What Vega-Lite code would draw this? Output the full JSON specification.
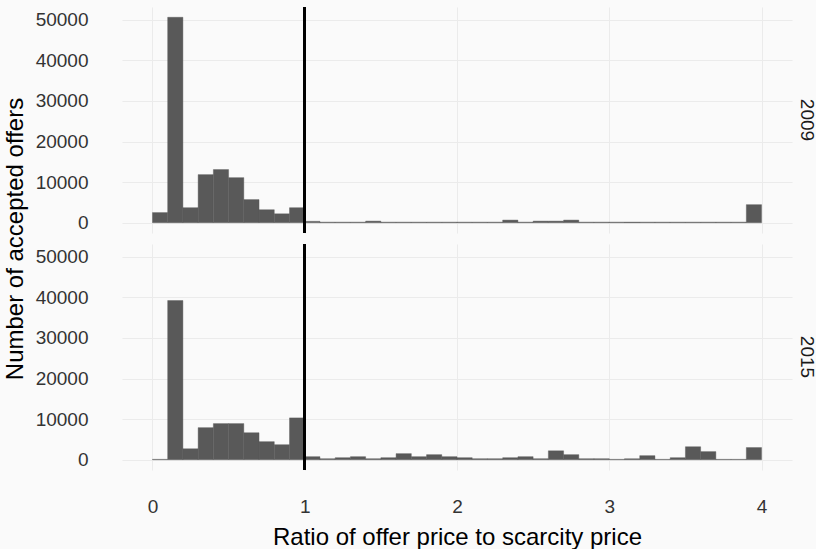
{
  "$schema": "https://vega.github.io/schema/vega-lite/v6.json",
  "background": "#fafafa",
  "padding": {"left": 3, "top": 6, "right": 0, "bottom": 0},
  "datasets": {
    "hist": [
      {"year": "2009", "bin_start": 0.0, "bin_end": 0.1, "count": 2500},
      {"year": "2009", "bin_start": 0.1, "bin_end": 0.2, "count": 50600},
      {"year": "2009", "bin_start": 0.2, "bin_end": 0.3, "count": 3700},
      {"year": "2009", "bin_start": 0.3, "bin_end": 0.4, "count": 11850},
      {"year": "2009", "bin_start": 0.4, "bin_end": 0.5, "count": 13100},
      {"year": "2009", "bin_start": 0.5, "bin_end": 0.6, "count": 11100},
      {"year": "2009", "bin_start": 0.6, "bin_end": 0.7, "count": 5700},
      {"year": "2009", "bin_start": 0.7, "bin_end": 0.8, "count": 3200},
      {"year": "2009", "bin_start": 0.8, "bin_end": 0.9, "count": 2200},
      {"year": "2009", "bin_start": 0.9, "bin_end": 1.0, "count": 3700},
      {"year": "2009", "bin_start": 1.0, "bin_end": 1.1, "count": 350},
      {"year": "2009", "bin_start": 1.1, "bin_end": 1.2, "count": 150},
      {"year": "2009", "bin_start": 1.2, "bin_end": 1.3, "count": 150},
      {"year": "2009", "bin_start": 1.3, "bin_end": 1.4, "count": 150},
      {"year": "2009", "bin_start": 1.4, "bin_end": 1.5, "count": 400},
      {"year": "2009", "bin_start": 1.5, "bin_end": 1.6, "count": 150},
      {"year": "2009", "bin_start": 1.6, "bin_end": 1.7, "count": 150},
      {"year": "2009", "bin_start": 1.7, "bin_end": 1.8, "count": 150},
      {"year": "2009", "bin_start": 1.8, "bin_end": 1.9, "count": 150},
      {"year": "2009", "bin_start": 1.9, "bin_end": 2.0, "count": 150},
      {"year": "2009", "bin_start": 2.0, "bin_end": 2.1, "count": 150},
      {"year": "2009", "bin_start": 2.1, "bin_end": 2.2, "count": 150},
      {"year": "2009", "bin_start": 2.2, "bin_end": 2.3, "count": 150},
      {"year": "2009", "bin_start": 2.3, "bin_end": 2.4, "count": 650},
      {"year": "2009", "bin_start": 2.4, "bin_end": 2.5, "count": 150},
      {"year": "2009", "bin_start": 2.5, "bin_end": 2.6, "count": 400},
      {"year": "2009", "bin_start": 2.6, "bin_end": 2.7, "count": 400},
      {"year": "2009", "bin_start": 2.7, "bin_end": 2.8, "count": 650},
      {"year": "2009", "bin_start": 2.8, "bin_end": 2.9, "count": 150},
      {"year": "2009", "bin_start": 2.9, "bin_end": 3.0, "count": 150},
      {"year": "2009", "bin_start": 3.0, "bin_end": 3.1, "count": 150},
      {"year": "2009", "bin_start": 3.1, "bin_end": 3.2, "count": 150},
      {"year": "2009", "bin_start": 3.2, "bin_end": 3.3, "count": 150},
      {"year": "2009", "bin_start": 3.3, "bin_end": 3.4, "count": 150},
      {"year": "2009", "bin_start": 3.4, "bin_end": 3.5, "count": 150},
      {"year": "2009", "bin_start": 3.5, "bin_end": 3.6, "count": 150},
      {"year": "2009", "bin_start": 3.6, "bin_end": 3.7, "count": 150},
      {"year": "2009", "bin_start": 3.7, "bin_end": 3.8, "count": 150},
      {"year": "2009", "bin_start": 3.8, "bin_end": 3.9, "count": 150},
      {"year": "2009", "bin_start": 3.9, "bin_end": 4.0, "count": 4450},
      {"year": "2015", "bin_start": 0.0, "bin_end": 0.1, "count": 100},
      {"year": "2015", "bin_start": 0.1, "bin_end": 0.2, "count": 39200},
      {"year": "2015", "bin_start": 0.2, "bin_end": 0.3, "count": 2700},
      {"year": "2015", "bin_start": 0.3, "bin_end": 0.4, "count": 7900},
      {"year": "2015", "bin_start": 0.4, "bin_end": 0.5, "count": 8900},
      {"year": "2015", "bin_start": 0.5, "bin_end": 0.6, "count": 8900},
      {"year": "2015", "bin_start": 0.6, "bin_end": 0.7, "count": 6650},
      {"year": "2015", "bin_start": 0.7, "bin_end": 0.8, "count": 4450},
      {"year": "2015", "bin_start": 0.8, "bin_end": 0.9, "count": 3700},
      {"year": "2015", "bin_start": 0.9, "bin_end": 1.0, "count": 10300},
      {"year": "2015", "bin_start": 1.0, "bin_end": 1.1, "count": 750},
      {"year": "2015", "bin_start": 1.1, "bin_end": 1.2, "count": 250},
      {"year": "2015", "bin_start": 1.2, "bin_end": 1.3, "count": 500},
      {"year": "2015", "bin_start": 1.3, "bin_end": 1.4, "count": 750},
      {"year": "2015", "bin_start": 1.4, "bin_end": 1.5, "count": 250},
      {"year": "2015", "bin_start": 1.5, "bin_end": 1.6, "count": 500},
      {"year": "2015", "bin_start": 1.6, "bin_end": 1.7, "count": 1500},
      {"year": "2015", "bin_start": 1.7, "bin_end": 1.8, "count": 750},
      {"year": "2015", "bin_start": 1.8, "bin_end": 1.9, "count": 1250},
      {"year": "2015", "bin_start": 1.9, "bin_end": 2.0, "count": 750},
      {"year": "2015", "bin_start": 2.0, "bin_end": 2.1, "count": 500},
      {"year": "2015", "bin_start": 2.1, "bin_end": 2.2, "count": 250},
      {"year": "2015", "bin_start": 2.2, "bin_end": 2.3, "count": 250},
      {"year": "2015", "bin_start": 2.3, "bin_end": 2.4, "count": 500},
      {"year": "2015", "bin_start": 2.4, "bin_end": 2.5, "count": 750},
      {"year": "2015", "bin_start": 2.5, "bin_end": 2.6, "count": 250},
      {"year": "2015", "bin_start": 2.6, "bin_end": 2.7, "count": 2200},
      {"year": "2015", "bin_start": 2.7, "bin_end": 2.8, "count": 1250},
      {"year": "2015", "bin_start": 2.8, "bin_end": 2.9, "count": 250},
      {"year": "2015", "bin_start": 2.9, "bin_end": 3.0, "count": 250},
      {"year": "2015", "bin_start": 3.0, "bin_end": 3.1, "count": 100},
      {"year": "2015", "bin_start": 3.1, "bin_end": 3.2, "count": 250},
      {"year": "2015", "bin_start": 3.2, "bin_end": 3.3, "count": 1000},
      {"year": "2015", "bin_start": 3.3, "bin_end": 3.4, "count": 100},
      {"year": "2015", "bin_start": 3.4, "bin_end": 3.5, "count": 500},
      {"year": "2015", "bin_start": 3.5, "bin_end": 3.6, "count": 3200},
      {"year": "2015", "bin_start": 3.6, "bin_end": 3.7, "count": 2000},
      {"year": "2015", "bin_start": 3.7, "bin_end": 3.8, "count": 100},
      {"year": "2015", "bin_start": 3.8, "bin_end": 3.9, "count": 100},
      {"year": "2015", "bin_start": 3.9, "bin_end": 4.0, "count": 3000}
    ]
  },
  "data": {"name": "hist"},
  "facet": {
    "row": {
      "field": "year",
      "type": "nominal",
      "header": {
        "title": "Number of accepted offers",
        "titleOrient": "left",
        "titleFont": "Liberation Sans",
        "titleFontSize": 24,
        "titleFontWeight": "normal",
        "titleColor": "#000000",
        "titlePadding": -3,
        "labelOrient": "right",
        "labelAngle": 90,
        "labelFont": "Liberation Sans",
        "labelFontSize": 19,
        "labelColor": "#1a1a1a",
        "labelPadding": 5
      }
    }
  },
  "spacing": 9,
  "spec": {
    "width": 670,
    "height": 226,
    "layer": [
      {
        "mark": {"type": "bar", "color": "#595959", "stroke": "#595959", "strokeWidth": 0.4, "orient": "vertical"},
        "encoding": {
          "x": {
            "field": "bin_start",
            "type": "quantitative",
            "scale": {"domain": [-0.2, 4.2], "nice": false, "zero": false, "padding": 0},
            "axis": {
              "values": [0, 1, 2, 3, 4],
              "format": "d",
              "title": "Ratio of offer price to scarcity price",
              "labelPadding": 26,
              "titlePadding": 9
            }
          },
          "x2": {"field": "bin_end"},
          "y": {
            "field": "count",
            "type": "quantitative",
            "scale": {"domain": [-2530, 53130], "nice": false, "zero": false, "padding": 0},
            "axis": {
              "values": [0, 10000, 20000, 30000, 40000, 50000],
              "format": "d",
              "title": null,
              "labelPadding": 34
            }
          },
          "y2": {"datum": 0}
        }
      },
      {
        "mark": {"type": "rule", "color": "#000000", "strokeWidth": 2},
        "encoding": {"x": {"datum": 1}}
      }
    ]
  },
  "config": {
    "view": {"stroke": null},
    "axis": {
      "domain": false,
      "ticks": false,
      "grid": true,
      "gridColor": "#ebebeb",
      "gridWidth": 1,
      "labelFont": "Liberation Sans",
      "labelFontSize": 19,
      "labelColor": "#333333",
      "titleFont": "Liberation Sans",
      "titleFontSize": 24,
      "titleFontWeight": "normal",
      "titleColor": "#000000"
    }
  }
}
